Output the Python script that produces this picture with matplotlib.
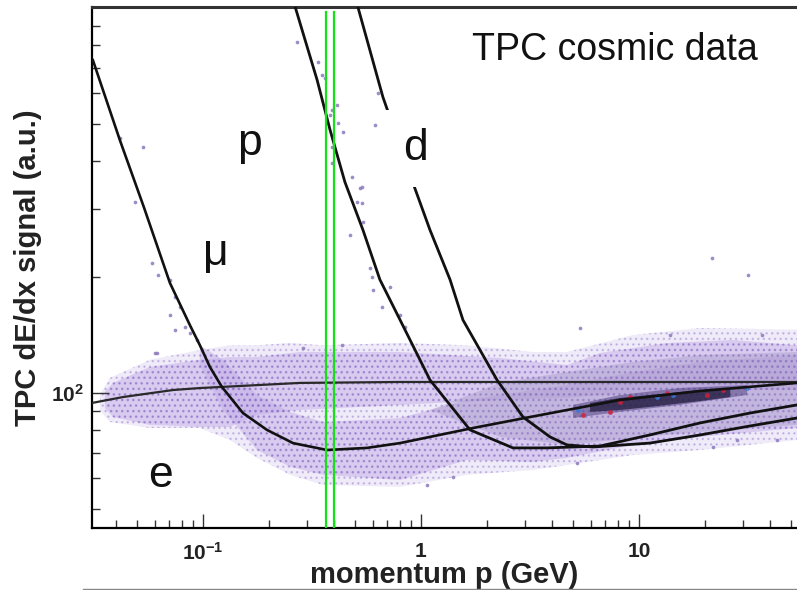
import matplotlib
matplotlib.use('Agg')
import matplotlib.pyplot as plt
from matplotlib.ticker import FixedLocator, FixedFormatter, NullFormatter, LogLocator
from matplotlib.lines import Line2D

plt.rcParams['font.family'] = ['Liberation Sans', 'DejaVu Sans']
plt.rcParams['mathtext.fontset'] = 'custom'
plt.rcParams['mathtext.rm'] = 'Liberation Sans'
plt.rcParams['mathtext.bf'] = 'Liberation Sans:bold'
plt.rcParams['hatch.linewidth'] = 1.0

# ---------------- data (momentum p in GeV, dE/dx in a.u.) ----------------
e_p = [0.0310, 0.0430, 0.0731, 0.0969, 0.279, 0.801, 53.0]
e_v = [94.2, 97.6, 101.8, 103.0, 106.2, 106.8, 106.8]

mu_p = [0.0313, 0.0416, 0.0536, 0.0706, 0.0871, 0.0969, 0.1077, 0.1222, 0.1526,
        0.1966, 0.259, 0.371, 0.565, 0.801, 1.732, 3.16, 8.18, 19.05, 53.0]
mu_v = [732, 454, 304, 193.1, 150.2, 133, 116.8, 103.7, 88.7,
        80.2, 74.1, 71.1, 72.0, 74.1, 81.1, 86.6, 95.9, 101.2, 106.2]

prot_p = [0.259, 0.334, 0.383, 0.448, 0.542, 0.648, 0.801, 1.100, 1.678,
          2.642, 3.784, 6.62, 11.2, 19.05, 32.3, 53.0]
prot_v = [1050, 650, 482, 353, 265, 197, 155, 108.1, 80.2,
          72.0, 72.0, 72.8, 77.8, 83.6, 88.7, 93.1]

deut_p = [0.503, 0.669, 0.909, 1.100, 1.359, 1.558, 2.232, 2.937, 3.906,
          4.67, 6.15, 11.2, 19.05, 32.3, 53.0]
deut_v = [1050, 587, 357, 265, 197, 154.7, 108.1, 86.6, 76.9,
          73.3, 72.4, 74.1, 77.8, 82.1, 86.1]

# cloud envelopes
halo_p = [0.0337, 0.0374, 0.0571, 0.0969, 0.133, 0.177, 0.251, 0.355, 0.801,
          1.625, 3.263, 4.67, 9.38, 19.05, 53.0]
halo_hi = [98.8, 109.4, 122, 129.3, 133, 133, 134.9, 133, 134.9,
           133, 127.8, 127.8, 141.4, 147.5, 146]
halo_lo = [90.3, 84.1, 81.1, 81.1, 75.5, 67.8, 61.3, 57.7, 57.0,
           61.3, 63.1, 65.0, 69.0, 71.1, 75.5]

eband_p = [0.0355, 0.0387, 0.0571, 0.0969, 0.133, 0.177, 0.279, 0.801, 2.303,
           4.67, 6.62, 13.4, 27.0, 53.0]
eband_hi = [100.6, 106.2, 116.8, 122, 124, 124, 127.8, 127.8, 123.3,
            118.2, 127, 134.8, 137.3, 133]
eband_lo = [91.4, 86.6, 82.6, 81.6, 81.6, 87.7, 90.3, 93.1, 95.9,
            97.1, 98.8, 100.6, 101.8, 101.8]

muband_p = [0.0969, 0.1236, 0.177, 0.251, 0.355, 0.801, 1.625, 3.263,
            4.67, 9.38, 19.05, 53.0]
muband_hi = [133, 122, 98.8, 89.3, 84.1, 86.1, 95.9, 101.8,
             104.9, 113.4, 120.4, 125.5]
muband_lo = [118.1, 90.3, 71.1, 64.3, 61.3, 59.4, 67.0, 66.2,
             67.8, 73.3, 76.9, 81.1]

dense_p = [1.10, 2.303, 4.67, 9.38, 19.05, 53.0]
dense_hi = [90.3, 106.2, 113.4, 120.4, 125.5, 127.8]
dense_lo = [90.3, 76.9, 73.3, 76.4, 79.2, 82.6]

core_outer_p = [4.98, 8.18, 15.4, 31.3]
core_outer_lo = [86.1, 89.3, 93.1, 98.8]
core_outer_hi = [93.1, 98.8, 103.0, 104.9]

core_p = [5.96, 8.18, 11.2, 19.05, 26.2]
core_lo = [89.3, 90.3, 92.0, 95.3, 97.6]
core_hi = [94.2, 97.1, 98.8, 101.8, 102.4]

hot_red_p = [8.18, 9.09, 13.4, 20.5, 24.3, 7.36, 5.53]
hot_red_v = [94.8, 97.6, 100, 98.8, 101.8, 89.3, 87.7]
hot_blue_p = [5.25, 14.3, 12.1, 31.3]
hot_blue_v = [90.3, 98.8, 97.6, 103.0]

out_p = [0.270, 0.337, 0.352, 0.363, 0.391, 0.412, 0.383, 0.416, 0.439, 0.391,
         0.391, 0.482, 0.525, 0.615, 0.635, 0.536, 0.509, 0.536, 0.542, 0.472,
         0.583, 0.596, 0.602, 0.721, 0.662, 0.801, 0.845, 0.434, 0.288,
         21.6, 31.6, 0.0531, 0.0416, 0.0488, 0.0583, 0.0622, 0.0706, 0.0602,
         0.0706, 0.0744, 5.36, 13.9, 36.7, 1.065, 5.19, 1.402, 21.8, 43.0, 28.1,
         0.0744, 0.0784, 0.0827, 0.0871, 0.0939, 0.0615]
out_v = [816, 724, 670, 658, 543, 560, 527, 503, 476, 435,
         396, 364, 341, 497, 601, 343, 313, 312, 278, 257,
         211, 200, 185, 188, 167, 159.5, 148, 133, 131,
         224, 202, 435, 459, 313, 218, 202, 197, 127,
         159.5, 146, 147.5, 141.7, 141.7, 57.7, 65.8, 60.5, 72.4, 75.5, 75.5,
         177.5, 167, 148.4, 143.1, 137.3, 127]

marker_lines_p = [0.367, 0.399]

x_ticks = [0.1, 1, 10]
x_ticklabels = [r'$\mathbf{10^{-1}}$', '1', '10']
y_ticks = [100]
y_ticklabels = [r'$\mathbf{10^{2}}$']

labels = ['p', 'd', 'μ', 'e']
label_p = [0.164, 0.939, 0.115, 0.0642]
label_v = [415, 403, 215, 57.0]

# ---------------- figure ----------------
fig = plt.figure(figsize=(7.97, 5.90), dpi=100)
ax = fig.add_axes([0.1154, 0.1051, 0.8846, 0.8831])
ax.set_xscale('log')
ax.set_yscale('log')
ax.set_xlim(0.0310, 53.0)
ax.set_ylim(44.6, 1006)

cloud_face = '#bca6e4'
hatch_col = '#8a6fc6'


def cloud(bp, lo, hi, a_face, a_hatch, z):
    ax.fill_between(bp, lo, hi, facecolor=cloud_face, alpha=a_face, lw=0, zorder=z)
    ax.fill_between(bp, lo, hi, facecolor='none', edgecolor=hatch_col,
                    hatch='...', lw=0, alpha=a_hatch, zorder=z + 0.1)


cloud(halo_p, halo_lo, halo_hi, 0.22, 0.35, 0.8)
cloud(eband_p, eband_lo, eband_hi, 0.45, 0.5, 1.0)
cloud(muband_p, muband_lo, muband_hi, 0.45, 0.5, 1.0)
ax.fill_between(dense_p, dense_lo, dense_hi, facecolor='#9486b8', alpha=0.3, lw=0, zorder=1.3)

ax.fill_between(core_outer_p, core_outer_lo, core_outer_hi, facecolor='#4a3a7a',
                alpha=0.5, lw=0, zorder=1.45)
ax.fill_between(core_p, core_lo, core_hi, facecolor='#221c3e', alpha=0.75, lw=0, zorder=1.5)
ax.scatter(hot_red_p, hot_red_v, s=12, c='#d0203a', lw=0, alpha=0.85, zorder=1.6)
ax.scatter(hot_blue_p, hot_blue_v, s=12, c='#3a7ad8', lw=0, alpha=0.85, zorder=1.6)
ax.scatter(out_p, out_v, s=7, c='#8b78bd', lw=0, alpha=0.85, zorder=1.4)

ax.plot(e_p, e_v, color='#2a2a2a', lw=1.6, zorder=3)
ax.plot(mu_p, mu_v, color='#111111', lw=1.9, zorder=3)
ax.plot(prot_p, prot_v, color='#111111', lw=2.0, zorder=3)
ax.plot(deut_p, deut_v, color='#111111', lw=2.0, zorder=3)

for lab, lp, lv in zip(labels, label_p, label_v):
    ax.text(lp, lv, lab, fontsize=32, ha='center', va='baseline', color='#111111',
            zorder=4, bbox=dict(boxstyle='square,pad=0.4', fc='white', ec='none'))

ax.text(0.539, 0.898, 'TPC cosmic data', transform=ax.transAxes, fontsize=27,
        ha='left', va='baseline', color='#111111', zorder=4)

for xp in marker_lines_p:
    ax.axvline(xp, ymin=0, ymax=0.99, color='#16e016', lw=1.6, zorder=5)

# axes styling
ax.spines['right'].set_visible(False)
ax.spines['left'].set_linewidth(1.6)
ax.spines['bottom'].set_linewidth(1.6)
ax.spines['top'].set_linewidth(2.2)
ax.spines['top'].set_color('#333333')

ax.xaxis.set_major_locator(FixedLocator(x_ticks))
ax.xaxis.set_major_formatter(FixedFormatter(x_ticklabels))
ax.xaxis.set_minor_locator(LogLocator(base=10, subs=range(2, 10)))
ax.xaxis.set_minor_formatter(NullFormatter())
ax.yaxis.set_major_locator(FixedLocator(y_ticks))
ax.yaxis.set_major_formatter(FixedFormatter(y_ticklabels))
ax.yaxis.set_minor_locator(LogLocator(base=10, subs=range(2, 10)))
ax.yaxis.set_minor_formatter(NullFormatter())

ax.tick_params(axis='x', which='major', direction='in', length=10, width=1, color='#333333',
               pad=10, labelsize=15)
ax.tick_params(axis='x', which='minor', direction='in', length=6, width=1, color='#333333')
ax.tick_params(axis='y', which='major', direction='in', length=12, width=1, color='#333333',
               pad=6, labelsize=15)
ax.tick_params(axis='y', which='minor', direction='in', length=6, width=1, color='#333333')
for t in ax.get_xticklabels() + ax.get_yticklabels():
    t.set_fontweight('bold')
    t.set_color('#222222')

ax.set_xlabel('momentum p (GeV)', fontsize=21, fontweight='bold', color='#222222', labelpad=-2)
ax.set_ylabel('TPC dE/dx signal (a.u.)', fontsize=21, fontweight='bold', color='#222222', labelpad=6)

fig.add_artist(Line2D([0.104, 1.0], [0.0025, 0.0025], transform=fig.transFigure,
                      color='#888888', lw=1.0))

fig.savefig('out.png', dpi=100)
